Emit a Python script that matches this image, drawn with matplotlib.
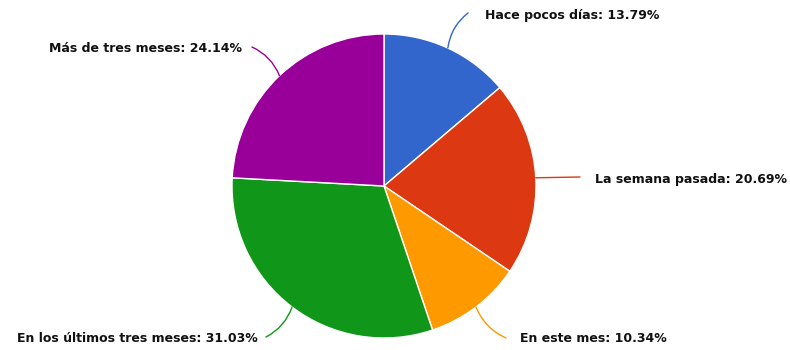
import numpy as np
import matplotlib.pyplot as plt

labels = ["Hace pocos días", "La semana pasada", "En este mes",
          "En los últimos tres meses", "Más de tres meses"]
values = [13.79, 20.69, 10.34, 31.03, 24.14]
colors = ["#3366cc", "#dc3912", "#ff9900", "#109618", "#990099"]

W, H = 790, 350
cx, cy, r = 384, 186, 152

fig = plt.figure(figsize=(W / 100, H / 100), dpi=100)
ax = fig.add_axes([(cx - r) / W, (H - cy - r) / H, 2 * r / W, 2 * r / H])
ax.axis("off")

wedges, _ = ax.pie(values, colors=colors, startangle=90, counterclock=False,
                   radius=1, center=(0, 0),
                   wedgeprops=dict(edgecolor="white", linewidth=1))
ax.set_xlim(-1, 1)
ax.set_ylim(-1, 1)


def px(x, y):
    return ((x - cx) / r, (cy - y) / r)


# label anchor (pixels), connector end (pixels), alignment, curvature
layout = [
    ((485, 16), (468, 13), "left", 0.2),
    ((595, 180), (580, 177), "left", 0.0),
    ((520, 338), (506, 338), "left", -0.2),
    ((258, 338), (266, 337), "right", 0.2),
    ((242, 49), (252, 47), "right", -0.2),
]

for w, lab, v, c, (tpos, lend, ha, rad) in zip(wedges, labels, values, colors, layout):
    mid = np.deg2rad((w.theta1 + w.theta2) / 2)
    edge = (np.cos(mid), np.sin(mid))
    ax.annotate("", xy=edge, xytext=px(*lend),
                arrowprops=dict(arrowstyle="-", color=c, lw=1,
                                connectionstyle=f"arc3,rad={rad}",
                                shrinkA=0, shrinkB=0))
    ax.text(*px(*tpos), f"{lab}: {v:.2f}%", ha=ha, va="center",
            fontsize=9, fontweight="bold", color="#111111", clip_on=False)

fig.savefig("out.png", dpi=100, facecolor="white")
